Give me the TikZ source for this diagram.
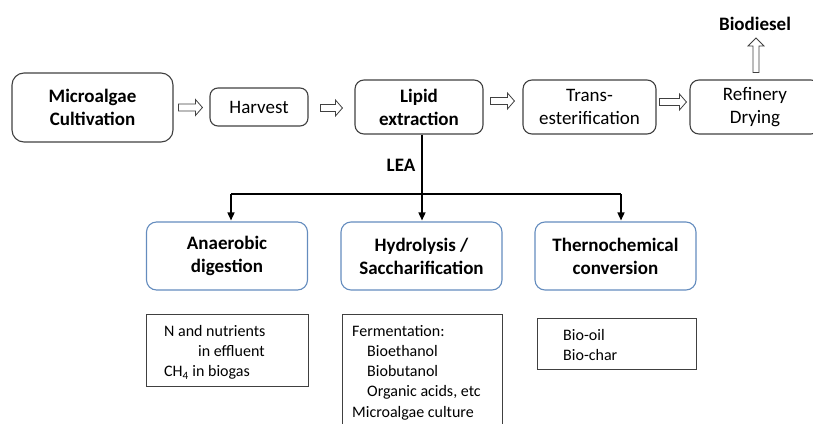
\documentclass[tikz,border=0pt]{standalone}
\usepackage{fontspec}
\setmainfont{Carlito}
\usetikzlibrary{calc,arrows.meta}
\definecolor{boxgray}{RGB}{64,64,64}
\definecolor{boxblue}{RGB}{100,140,190}
\newcommand\hollowright[2]{%
  \draw[harrow] let \p1=#1, \p2=#2 in
    (\x1,\y1+3.5) -- (\x2-7,\y1+3.5) -- (\x2-7,\y1+8) -- (\x2,\y1)
    -- (\x2-7,\y1-8) -- (\x2-7,\y1-3.5) -- (\x1,\y1-3.5) -- cycle;}
\newcommand\hollowup[2]{%
  \draw[harrow] let \p1=#1, \p2=#2 in
    (\x1-3,\y1) -- (\x1-3,\y2-8) -- (\x1-8,\y2-8) -- (\x1,\y2)
    -- (\x1+8,\y2-8) -- (\x1+3,\y2-8) -- (\x1+3,\y1) -- cycle;}
\begin{document}
\begin{tikzpicture}[x=1pt,y=-1pt,
  proc/.style={draw=boxgray, line width=1.1pt, rounded corners=9pt, align=center,
    inner sep=0pt, font=\fontsize{19}{23}\selectfont},
  procb/.style={proc, font=\fontsize{19}{23}\selectfont\bfseries},
  route/.style={draw=boxblue, line width=1.1pt, rounded corners=10pt, align=center,
    inner sep=0pt, minimum width=161pt, minimum height=68pt,
    font=\fontsize{19}{23}\selectfont\bfseries},
  tbox/.style={draw=boxgray, line width=0.9pt, inner sep=0pt},
  tlines/.style={anchor=north west, align=left, inner sep=0pt,
    font=\fontsize{16}{20.2}\selectfont},
  harrow/.style={draw=boxgray, line width=0.8pt, fill=white},
  link/.style={line width=1.5pt, black},
  linkarrow/.style={link, -{Triangle[length=8pt,width=7pt]}}
]
\useasboundingbox (0,0) rectangle (813,423);

% top row
\node[procb, minimum width=161pt, minimum height=69pt, rounded corners=12pt] (mc) at (92.5,107.5) {Microalgae\\Cultivation};
\node[proc, minimum width=98pt, minimum height=38pt, rounded corners=8pt] (hv) at (259,107) {Harvest};
\node[procb, minimum width=128pt, minimum height=54pt] (le) at (419,107) {Lipid\\extraction};
\node[proc, minimum width=133pt, minimum height=54pt] (te) at (589.5,107) {Trans-\\esterification};
\node[proc, minimum width=130pt, minimum height=54pt] (rd) at (755,107) {Refinery\\Drying};
\node[font=\fontsize{19}{23}\selectfont\bfseries, inner sep=0pt] (bd) at (755,24) {Biodiesel};

\hollowright{($(mc.east)+(5,0)$)}{($(hv.west)+(-7,0)$)}
\hollowright{($(hv.east)+(12,1)$)}{($(le.west)+(-12,1)$)}
\hollowright{($(le.east)+(7,-6)$)}{($(te.west)+(-8,-6)$)}
\hollowright{($(te.east)+(3,-5)$)}{($(rd.west)+(-3,-5)$)}
\hollowup{($(rd.north)+(1,-7)$)}{($(bd.center)+(1,14)$)}

% LEA branch
\node[font=\fontsize{19}{23}\selectfont\bfseries, inner sep=0pt] (lea) at (401,165) {LEA};
\node[route] (ad) at (227,256) {Anaerobic\\digestion};
\node[route] (hs) at (421.5,256) {Hydrolysis /\\Saccharification};
\node[route] (tc) at (615.5,256) {Thernochemical\\conversion};

\coordinate (split) at (422,194);
\coordinate (bl) at (231,194);
\coordinate (br) at (621,194);
\draw[link] (le.south -| split) -- (split);
\draw[link] (bl) -- (br);
\draw[linkarrow] (bl) -- ($(bl |- ad.north)+(0,-1)$);
\draw[linkarrow] (split) -- ($(split |- hs.north)+(0,-1)$);
\draw[linkarrow] (br) -- ($(br |- tc.north)+(0,-1)$);

% product boxes
\node[tbox, minimum width=162pt, minimum height=72pt] (nb) at (227,350) {};
\node[tlines] (nbt) at (164,325) {N and nutrients\\\hspace*{34pt}in effluent\\CH\textsubscript{4} in biogas};
\node[tbox, minimum width=160pt, minimum height=130pt] (fb) at (422,379) {};
\node[tlines] (fbt) at (352,325) {Fermentation:\\\hspace*{15pt}Bioethanol\\\hspace*{15pt}Biobutanol\\\hspace*{15pt}Organic acids, etc\\Microalgae culture};
\node[tbox, minimum width=159pt, minimum height=51pt] (bb) at (616.5,343.5) {};
\node[tlines] (bbt) at (563,329) {Bio-oil\\Bio-char};
\end{tikzpicture}
\end{document}
